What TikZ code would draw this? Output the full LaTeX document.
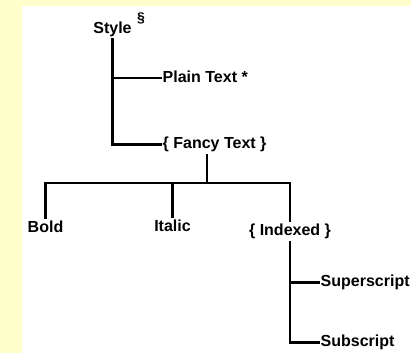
\documentclass[tikz,border=0pt]{standalone}
\usepackage{fontspec}
\setmainfont{Liberation Sans}
\definecolor{paleyellow}{HTML}{FFFFCC}

\begin{document}
\begin{tikzpicture}[x=1pt,y=-1pt,
  item/.style={inner xsep=1pt,inner ysep=2pt,text height=11.5pt,text depth=3pt,font=\fontsize{16}{19}\selectfont\bfseries},
  wire/.style={line width=2.2pt}]
\fill[paleyellow] (0,0) rectangle (411,353);
\fill[white] (22,6) rectangle (411,353);
\useasboundingbox (0,0) rectangle (411,353);
\node[item,label={[font=\fontsize{14}{15}\selectfont\bfseries,anchor=west,inner sep=0pt,xshift=4pt,yshift=1pt]north east:\S}] (style) at (112.5,29) {Style};
\node[item,anchor=west] (plain) at (161.5,78) {Plain Text *};
\node[item,anchor=west] (fancy) at (161.5,144.5) {\{ Fancy Text \}};
\node[item] (bold) at (45.5,228) {Bold};
\node[item] (italic) at (172.5,227) {Italic};
\node[item] (indexed) at (290,231.5) {\{ Indexed \}};
\node[item,anchor=west] (super) at (319.5,282.5) {Superscript};
\node[item,anchor=west] (sub) at (319.5,342.5) {Subscript};
\coordinate (fork) at (207,183);
\draw[wire] (style.south) |- (fancy.west);
\draw[wire] (style.south |- plain.west)--(plain.west);
\draw[wire] (fancy.south -| fork)--(fork);
\draw[wire] (bold.north) |- (fork) -| (indexed.north);
\draw[wire] (italic.north)--(italic.north |- fork);
\draw[wire] (indexed.south) |- (sub.west);
\draw[wire] (indexed.south |- super.west)--(super.west);
\end{tikzpicture}
\end{document}
